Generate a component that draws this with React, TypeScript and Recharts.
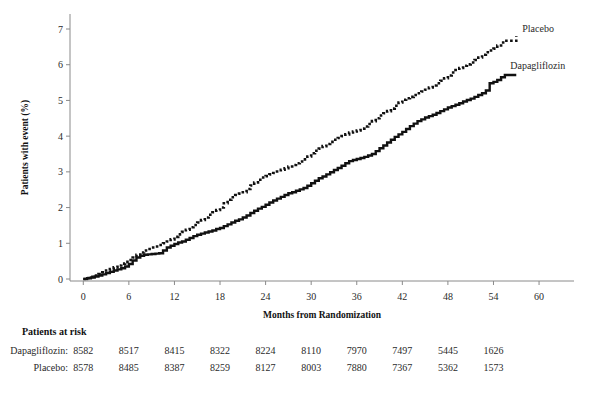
import { Line, LineChart, XAxis, YAxis } from "recharts";

// half-month grid
const months = [
  0, 0.5, 1, 1.5, 2, 2.5, 3, 3.5, 4, 4.5, 5, 5.5, 6, 6.5, 7, 7.5, 8, 8.5, 9, 9.5, 10, 10.5, 11, 11.5, 12,
  12.5, 13, 13.5, 14, 14.5, 15, 15.5, 16, 16.5, 17, 17.5, 18, 18.5, 19, 19.5, 20, 20.5, 21, 21.5, 22, 22.5,
  23, 23.5, 24, 24.5, 25, 25.5, 26, 26.5, 27, 27.5, 28, 28.5, 29, 29.5, 30, 30.5, 31, 31.5, 32, 32.5, 33,
  33.5, 34, 34.5, 35, 35.5, 36, 36.5, 37, 37.5, 38, 38.5, 39, 39.5, 40, 40.5, 41, 41.5, 42, 42.5, 43, 43.5,
  44, 44.5, 45, 45.5, 46, 46.5, 47, 47.5, 48, 48.5, 49, 49.5, 50, 50.5, 51, 51.5, 52, 52.5, 53, 53.5, 54,
  54.5, 55, 55.5, 56, 56.5, 57,
];

const placebo = [
  0, 0.03, 0.06, 0.1, 0.14, 0.19, 0.24, 0.28, 0.33, 0.38, 0.43, 0.48, 0.53, 0.6, 0.68, 0.74, 0.8, 0.84,
  0.88, 0.91, 0.95, 1.0, 1.05, 1.11, 1.18, 1.25, 1.32, 1.38, 1.45, 1.51, 1.58, 1.65, 1.72, 1.8, 1.87, 1.93,
  2.0, 2.12, 2.22, 2.29, 2.35, 2.39, 2.43, 2.52, 2.62, 2.7, 2.78, 2.84, 2.88, 2.93, 2.97, 3.01, 3.06, 3.1,
  3.15, 3.19, 3.24, 3.29, 3.35, 3.43, 3.52, 3.59, 3.65, 3.72, 3.78, 3.84, 3.9, 3.95, 4.0, 4.05, 4.1, 4.13,
  4.16, 4.21, 4.27, 4.34, 4.42, 4.5, 4.58, 4.64, 4.7, 4.77, 4.85, 4.94, 5.02, 5.06, 5.1, 5.15, 5.2, 5.25,
  5.3, 5.36, 5.42, 5.48, 5.55, 5.62, 5.7, 5.78, 5.85, 5.91, 5.97, 6.01, 6.06, 6.13, 6.2, 6.28, 6.35, 6.4,
  6.45, 6.54, 6.62, 6.67, 6.67, 6.67, 6.8,
];

const dapagliflozin = [
  0, 0.02, 0.04, 0.07, 0.1, 0.13, 0.17, 0.2, 0.24, 0.27, 0.3, 0.35, 0.42, 0.52, 0.6, 0.65, 0.68, 0.69, 0.7,
  0.71, 0.72, 0.8, 0.88, 0.93, 0.98, 1.02, 1.05, 1.1, 1.15, 1.2, 1.24, 1.27, 1.3, 1.33, 1.36, 1.4, 1.43,
  1.48, 1.53, 1.58, 1.63, 1.67, 1.72, 1.78, 1.85, 1.91, 1.97, 2.02, 2.08, 2.14, 2.2, 2.25, 2.3, 2.35, 2.4,
  2.43, 2.47, 2.51, 2.55, 2.61, 2.68, 2.75, 2.82, 2.87, 2.93, 2.99, 3.05, 3.11, 3.17, 3.24, 3.3, 3.33, 3.36,
  3.39, 3.42, 3.46, 3.5, 3.58, 3.66, 3.74, 3.82, 3.9, 3.98, 4.05, 4.12, 4.2, 4.28, 4.35, 4.42, 4.47, 4.52,
  4.56, 4.6, 4.65, 4.7, 4.75, 4.8, 4.84, 4.88, 4.92, 4.97, 5.01, 5.05, 5.1, 5.15, 5.2, 5.28, 5.48, 5.52,
  5.57, 5.65, 5.71, 5.71, 5.71, 5.71,
];

const xTicks = [0, 6, 12, 18, 24, 30, 36, 42, 48, 54, 60];
const yTicks = [0, 1, 2, 3, 4, 5, 6, 7];

const riskMonths = [0, 6, 12, 18, 24, 30, 36, 42, 48, 54];
const riskDapagliflozin = [8582, 8517, 8415, 8322, 8224, 8110, 7970, 7497, 5445, 1626];
const riskPlacebo = [8578, 8485, 8387, 8259, 8127, 8003, 7880, 7367, 5362, 1573];

const data = months.map((month, i) => ({
  month,
  placebo: placebo[i],
  dapagliflozin: dapagliflozin[i],
}));

const FONT = "'Liberation Serif', 'Times New Roman', serif";
const AXIS = "#8a8a8a";
const xDomain: [number, number] = [-1.75, 64.6];
const tickStyle = { fontSize: 10, fill: "#2a2a2a", fontFamily: FONT };

function endLabel(text: string, dx: number, dy: number) {
  return (props: any) => {
    if (props.index !== months.length - 1) return null;
    return (
      <text x={props.x + dx} y={props.y + dy} fontSize={10} fill="#2a2a2a" fontFamily={FONT}>
        {text}
      </text>
    );
  };
}

export default function App() {
  return (
    <div style={{ position: "absolute", left: 0, top: 0, width: 593, height: 396, background: "#fff" }}>
      <LineChart width={593} height={396} data={data} margin={{ top: 14, right: 19, left: 0, bottom: 21 }}>
        <XAxis
          dataKey="month"
          type="number"
          domain={xDomain}
          allowDataOverflow
          ticks={xTicks}
          interval={0}
          height={40}
          stroke={AXIS}
          tickSize={4}
          tickMargin={8}
          tick={tickStyle}
          label={{
            value: "Months from Randomization",
            position: "insideBottom",
            offset: 3,
            style: { fontSize: 9.5, fontWeight: "bold", fill: "#111", fontFamily: FONT },
          }}
        />
        <XAxis
          xAxisId="heading"
          dataKey="month"
          type="number"
          domain={xDomain}
          allowDataOverflow
          height={20}
          axisLine={false}
          tickLine={false}
          tick={false}
          label={{
            value: "Patients at risk",
            position: "insideLeft",
            offset: -48,
            style: { fontSize: 10, fontWeight: "bold", fill: "#111", fontFamily: FONT },
          }}
        />
        <XAxis
          xAxisId="riskDapa"
          dataKey="month"
          type="number"
          domain={xDomain}
          allowDataOverflow
          ticks={riskMonths}
          interval={0}
          height={18}
          axisLine={false}
          tickLine={false}
          tickSize={0}
          tickMargin={5.5}
          tick={tickStyle}
          tickFormatter={(v: number) => String(riskDapagliflozin[riskMonths.indexOf(v)])}
          label={{
            value: "Dapagliflozin:",
            position: "left",
            offset: 2,
            style: { fontSize: 10, fill: "#2a2a2a", fontFamily: FONT },
          }}
        />
        <XAxis
          xAxisId="riskPlacebo"
          dataKey="month"
          type="number"
          domain={xDomain}
          allowDataOverflow
          ticks={riskMonths}
          interval={0}
          height={16}
          axisLine={false}
          tickLine={false}
          tickSize={0}
          tickMargin={4.5}
          tick={tickStyle}
          tickFormatter={(v: number) => String(riskPlacebo[riskMonths.indexOf(v)])}
          label={{
            value: "Placebo:",
            position: "left",
            offset: 2,
            style: { fontSize: 10, fill: "#2a2a2a", fontFamily: FONT },
          }}
        />
        <XAxis
          xAxisId="top"
          orientation="top"
          dataKey="month"
          type="number"
          domain={xDomain}
          allowDataOverflow
          height={0}
          stroke={AXIS}
          tick={false}
          tickLine={false}
        />
        <YAxis
          type="number"
          domain={[-0.056, 7.42]}
          allowDataOverflow
          ticks={yTicks}
          interval={0}
          width={70}
          stroke={AXIS}
          tickSize={4}
          tickMargin={3}
          tick={tickStyle}
          label={{
            value: "Patients with event (%)",
            angle: -90,
            position: "insideLeft",
            offset: 25,
            style: { textAnchor: "middle", fontSize: 9.5, fontWeight: "bold", fill: "#111", fontFamily: FONT },
          }}
        />
        <YAxis
          yAxisId="right"
          orientation="right"
          type="number"
          domain={[-0.056, 7.42]}
          width={0}
          stroke={AXIS}
          tick={false}
          tickLine={false}
        />
        <Line
          type="stepAfter"
          dataKey="placebo"
          stroke="#111"
          strokeWidth={2.6}
          strokeDasharray="2.6 2.4"
          dot={false}
          isAnimationActive={false}
          label={endLabel("Placebo", 6, -4)}
        />
        <Line
          type="stepAfter"
          dataKey="dapagliflozin"
          stroke="#111"
          strokeWidth={2.4}
          dot={false}
          isAnimationActive={false}
          label={endLabel("Dapagliflozin", -6, -6)}
        />
      </LineChart>
    </div>
  );
}
